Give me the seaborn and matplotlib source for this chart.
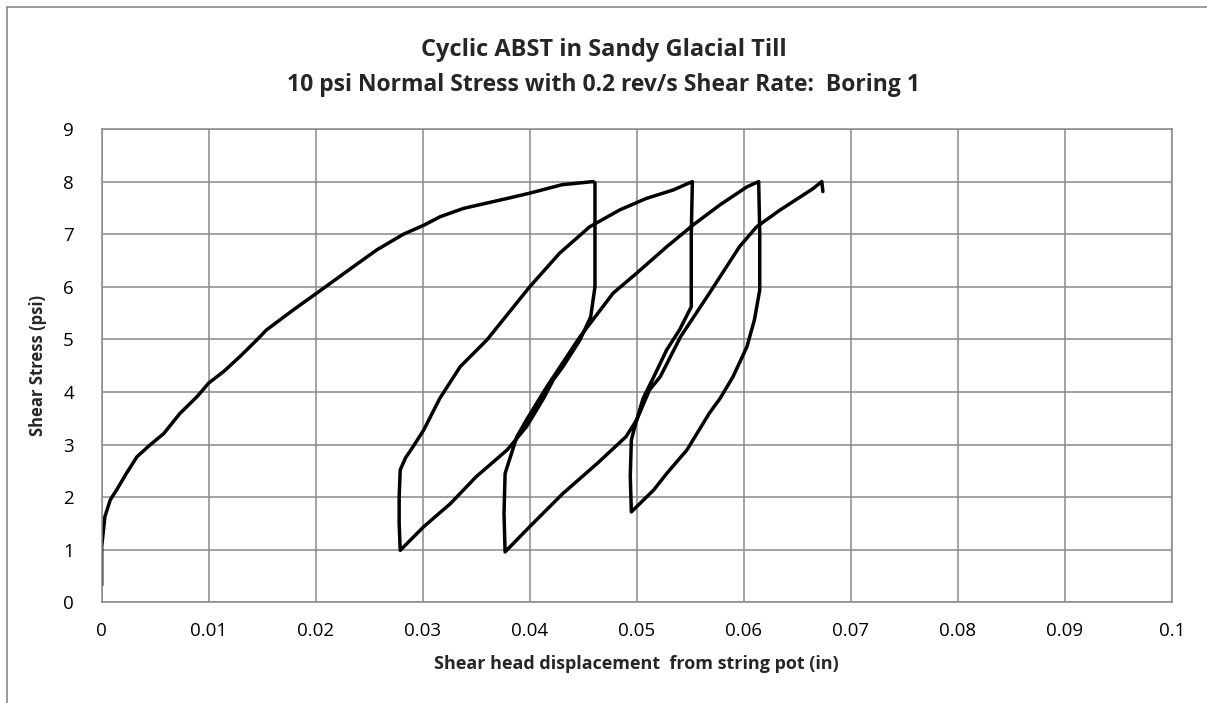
import numpy as np
import pandas as pd
import matplotlib
matplotlib.use("Agg")
import matplotlib.pyplot as plt
import seaborn as sns
from matplotlib.lines import Line2D

# ---- data ----
load1_x = [0.0000, 0.0000, 0.0003, 0.0008, 0.0014, 0.0023, 0.0033, 0.0045, 0.0058, 0.0073,
           0.0089, 0.0100, 0.0114, 0.0129, 0.0145, 0.0154, 0.0179, 0.0201, 0.0235, 0.0257,
           0.0282, 0.0301, 0.0316, 0.0338, 0.0366, 0.0379, 0.0400, 0.0430, 0.0459]
load1_y = [0.33, 1.06, 1.63, 1.95, 2.14, 2.45, 2.77, 2.99, 3.21, 3.59,
           3.91, 4.17, 4.39, 4.67, 4.99, 5.18, 5.56, 5.88, 6.38, 6.70,
           7.00, 7.17, 7.33, 7.49, 7.62, 7.68, 7.78, 7.94, 8.00]

unload1_x = [0.0461, 0.0461, 0.0461, 0.0457, 0.0447, 0.0431, 0.0422, 0.0413, 0.0397, 0.0379,
             0.0350, 0.0326, 0.0301, 0.0279]
unload1_y = [7.98, 6.80, 6.00, 5.43, 4.99, 4.48, 4.23, 3.88, 3.34, 2.90,
             2.39, 1.88, 1.44, 0.99]

reload2_x = [0.0278, 0.0278, 0.0279, 0.0284, 0.0291, 0.0301, 0.0316, 0.0335, 0.0360, 0.0400,
             0.0428, 0.0456, 0.0484, 0.0509, 0.0534, 0.0552]
reload2_y = [1.50, 2.00, 2.52, 2.75, 2.96, 3.28, 3.88, 4.48, 4.99, 6.00,
             6.64, 7.14, 7.46, 7.68, 7.84, 8.00]

unload2_x = [0.0552, 0.0551, 0.0551, 0.0540, 0.0528, 0.0516, 0.0506, 0.0500, 0.0490, 0.0463,
             0.0431, 0.0400, 0.0377]
unload2_y = [7.96, 7.00, 5.62, 5.18, 4.80, 4.29, 3.88, 3.47, 3.15, 2.64,
             2.07, 1.44, 0.96]

reload3_x = [0.0376, 0.0377, 0.0382, 0.0388, 0.0397, 0.0416, 0.0447, 0.0478, 0.0500, 0.0528,
             0.0553, 0.0578, 0.0603, 0.0614]
reload3_y = [1.69, 2.45, 2.77, 3.15, 3.47, 4.10, 5.05, 5.88, 6.26, 6.76,
             7.18, 7.56, 7.90, 8.00]

unload3_x = [0.0615, 0.0615, 0.0610, 0.0603, 0.0590, 0.0578, 0.0568, 0.0547, 0.0528, 0.0516,
             0.0495]
unload3_y = [7.00, 5.94, 5.37, 4.86, 4.29, 3.88, 3.60, 2.90, 2.45, 2.14,
             1.72]

reload4_x = [0.0494, 0.0495, 0.0500, 0.0512, 0.0522, 0.0541, 0.0568, 0.0596, 0.0612, 0.0634,
             0.0653, 0.0665, 0.0673, 0.0674]
reload4_y = [2.40, 3.09, 3.47, 4.04, 4.29, 5.05, 5.88, 6.76, 7.14, 7.46,
             7.71, 7.87, 8.00, 7.81]

x_ticks = [0, 0.01, 0.02, 0.03, 0.04, 0.05, 0.06, 0.07, 0.08, 0.09, 0.1]
x_tick_labels = ["0", "0.01", "0.02", "0.03", "0.04", "0.05", "0.06", "0.07", "0.08", "0.09", "0.1"]
y_ticks = [0, 1, 2, 3, 4, 5, 6, 7, 8, 9]

title_line1 = "Cyclic ABST in Sandy Glacial Till"
title_line2 = "10 psi Normal Stress with 0.2 rev/s Shear Rate:  Boring 1"
xlabel = "Shear head displacement  from string pot (in)"
ylabel = "Shear Stress (psi)"

# ---- build one continuous path ----
xs = load1_x + unload1_x + reload2_x + unload2_x + reload3_x + unload3_x + reload4_x
ys = load1_y + unload1_y + reload2_y + unload2_y + reload3_y + unload3_y + reload4_y
df = pd.DataFrame({"x": xs, "y": ys, "order": np.arange(len(xs))})

sns.set_theme(style="white")
plt.rcParams['font.family'] = ['Open Sans', 'DejaVu Sans']

fig = plt.figure(figsize=(12.07, 7.03), dpi=100)
ax = fig.add_axes([101.7 / 1207, 1 - 602.4 / 703, (1171.7 - 101.7) / 1207, (602.4 - 129) / 703])

sns.lineplot(data=df, x="x", y="y", sort=False, estimator=None, color="black",
             linewidth=2.5, ax=ax, solid_joinstyle="round", solid_capstyle="round")

ax.set_xlim(0, 0.1)
ax.set_ylim(0, 9)
ax.set_xticks(x_ticks)
ax.set_xticklabels(x_tick_labels)
ax.set_yticks(y_ticks)
ax.grid(True, color="#898989", linewidth=1.1)
ax.set_axisbelow(True)
for s in ax.spines.values():
    s.set_color("#898989")
    s.set_linewidth(1.1)
ax.tick_params(axis="both", length=0, labelsize=13.5, colors="black")
ax.tick_params(axis="x", pad=14)
ax.tick_params(axis="y", pad=20)

ax.set_xlabel(xlabel, fontsize=13, fontweight="bold", labelpad=11)
ax.set_ylabel(ylabel, fontsize=12, fontweight="bold", labelpad=12)

fig.text(0.5, 1 - 50 / 703, title_line1, ha="center", va="center",
         fontsize=17, fontweight="bold")
fig.text(0.5, 1 - 85 / 703, title_line2, ha="center", va="center",
         fontsize=16.5, fontweight="bold")

# chart-area border (left and top visible)
fig.add_artist(Line2D([7 / 1207, 7 / 1207], [0, 1 - 7 / 703], color="#898989", linewidth=1.2))
fig.add_artist(Line2D([7 / 1207, 1], [1 - 7 / 703, 1 - 7 / 703], color="#898989", linewidth=1.2))

fig.savefig("out.png", dpi=100, facecolor="white")
